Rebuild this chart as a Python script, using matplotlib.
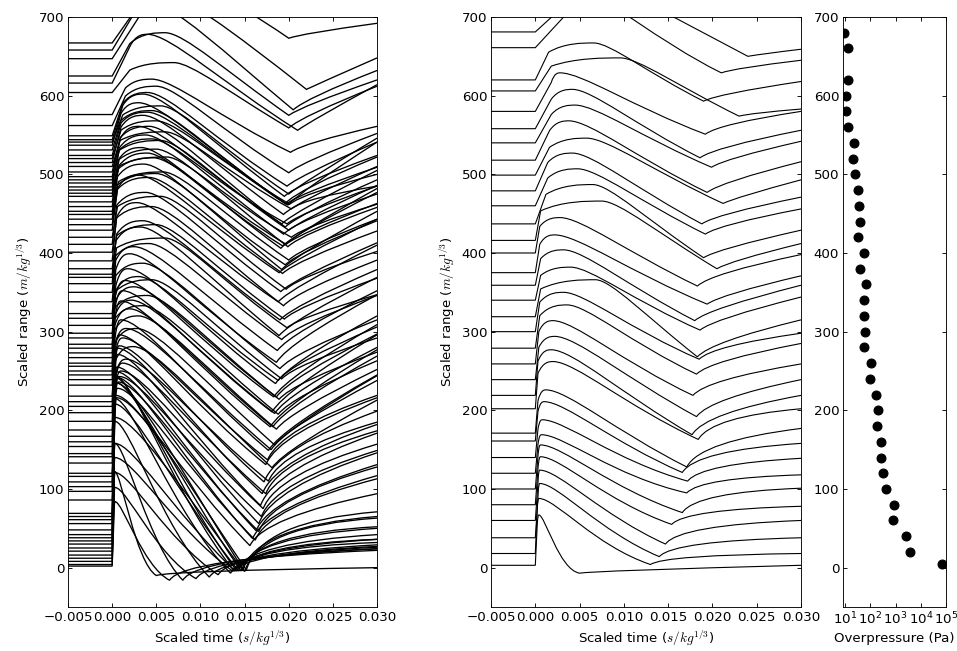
import matplotlib
matplotlib.use('Agg')
import matplotlib.pyplot as plt
from matplotlib.path import Path
from matplotlib.patches import PathPatch

plt.rcParams['font.size'] = 12
plt.rcParams['mathtext.fontset'] = 'cm'
plt.rcParams['xtick.direction'] = 'in'
plt.rcParams['ytick.direction'] = 'in'
plt.rcParams['xtick.top'] = True
plt.rcParams['ytick.right'] = True
plt.rcParams['xtick.major.size'] = 4
plt.rcParams['ytick.major.size'] = 4
plt.rcParams['xtick.minor.size'] = 2
plt.rcParams['ytick.minor.size'] = 2

# ---- left panel: every record (key values) ----
# offset (scaled range), rise time, peak time, peak, mid-descent, V time, V, recovery, end
left_base = [667, 658, 647, 625, 616, 604,
             576, 562, 549, 544, 541, 537, 531,
             524, 520, 515, 510, 503, 497, 493, 489, 484, 480, 476, 472, 465, 459, 453, 449, 443,
             436, 429, 420, 411, 401, 390, 380, 373, 369, 361, 350,
             338, 323, 317, 308, 298, 292, 284, 279, 273, 267, 260, 256, 250, 245, 239, 232, 218, 211, 205,
             197, 186, 175, 167, 160, 154, 145, 141, 133, 120, 116, 109, 103, 97, 86,
             69, 65, 61, 56, 48, 42, 38, 34, 30, 25, 21, 16, 12, 8, 4, 2]
left_rise = [.004, .003, .003, .002, .002, .002,
             .0015, .0015, .0012, .0012, .0012, .001, .001,
             .001, .001, .001, .0009, .0009, .0009, .0008, .0008, .0008, .0008, .0008, .0007, .0007,
             .0007, .0007, .0006, .0006,
             .0006, .0006, .0006, .0005, .0005, .0005, .0005, .0005, .0005, .0004, .0004,
             .0004, .0004, .0004, .0004, .0004, .0004, .0003, .0003, .0003, .0003, .0003, .0003, .0003,
             .0003, .0003, .0003, .0003, .0003, .0003,
             .0003, .0003, .0003, .0003, .0003, .0003, .0003, .0003, .0003, .0003, .0003, .0003, .0003,
             .0003, .0003,
             .0002, .0002, .0002, .0002, .0002, .0002, .0002, .0002, .0002, .0002, .0002, .0002, .0002,
             .0002, .0002, .0002]
left_tp = [.006, .005, .0045, .006, .004, .007,
           .0045, .005, .004, .0035, .0055, .003, .0045,
           .004, .005, .0035, .006, .0042, .003, .0055, .0045, .0038, .005, .0062, .0033, .0047, .004,
           .0058, .0036, .005,
           .0042, .003, .0055, .0038, .0045, .0028, .005, .0035, .006, .0032, .0042,
           .0025, .0035, .002, .0045, .003, .0018, .004, .0025, .0015, .0035, .0022, .0012, .003, .002,
           .001, .0028, .0016, .001, .0024,
           .0012, .0008, .0016, .0008, .0012, .0006, .001, .0006, .0008, .0005, .0007, .0005, .0006,
           .0005, .0005,
           .0004, .0004, .0003, .0003, .0003, .0003, .0003, .0003, .0003, .0003, .0003, .0003, .0003,
           .0003, .0003, .0003]
left_dp = [85, 75, 70, 55, 62, 38,
           45, 50, 55, 58, 46, 54, 50,
           55, 48, 60, 44, 58, 64, 50, 56, 66, 52, 46, 62, 56, 68, 50, 64, 58,
           60, 70, 52, 66, 58, 74, 56, 68, 50, 72, 62,
           70, 64, 82, 58, 72, 88, 62, 78, 92, 66, 80, 96, 70, 84, 100, 72, 86, 104, 76,
           95, 110, 90, 115, 100, 125, 105, 130, 110, 135, 120, 140, 125, 145, 130,
           150, 170, 130, 180, 160, 200, 120, 210, 110, 190, 100, 170, 90, 150, 80, 120]
left_dk = [60, 25, 10, 5, 0, -2,
           -5, -8, -8, -6, -12, -10, -12,
           -4, -8, -2, -10, -6, 0, -10, -6, 2, -8, -12, -2, -4, 4, -8, 0, -4,
           -2, 6, -8, 2, -4, 8, -6, 4, -10, 6, 0,
           4, -2, 8, -6, 2, 10, -4, 6, 12, -2, 6, 14, 0, 8, 16, 2, 10, 18, 4,
           14, 20, 8, 22, 12, 26, 14, 28, 16, 30, 18, 32, 20, 34, 28,
           50, 58, 44, 56, 46, 58, 30, 56, 22, 44, 14, 34, 4, 20, -2, 4]
left_tv = [.020, .022, .0205, .020, .021, .020,
           .0202, .020, .0198, .0195, .020, .0196, .0199,
           .0197, .0201, .0194, .0203, .0196, .0192, .020, .0198, .0194, .0199, .0203, .0191, .0197,
           .0193, .020, .0192, .0196,
           .0193, .0189, .0197, .0191, .0194, .0188, .0195, .019, .0198, .0189, .0192,
           .0187, .019, .0186, .0192, .0188, .0185, .0189, .0186, .0183, .0188, .0184, .0181, .0186,
           .0182, .0179, .0184, .018, .0177, .0181,
           .0176, .0174, .0177, .0172, .0174, .017, .0171, .0168, .0169, .0166, .0166, .0163, .0162,
           .0159, .0156,
           .0152, .015, .0148, .0146, .0143, .0141, .0139, .0138, .0136, .0134, .012, .011, .0095,
           .008, .0065, .005]
left_dv = [6, -50, -65, -50, -60, -45,
           -48, -60, -64, -72, -66, -74, -70,
           -62, -58, -66, -54, -70, -60, -64, -52, -60, -72, -56, -66, -54, -50, -62, -70, -58,
           -62, -54, -66, -60, -68, -52, -64, -58, -64, -66, -60,
           -62, -70, -56, -68, -60, -58, -70, -62, -56, -72, -64, -58, -74, -66, -60, -76, -68, -62, -78,
           -60, -55, -65, -58, -66, -60, -70, -62, -68, -64, -70, -62, -68, -60, -58,
           -72, -70, -64, -60, -52, -46, -42, -38, -34, -32, -30, -28, -26, -24, -20, -12]
left_dr = [12, -42, -50, -38, -48, -30,
           -36, -46, -50, -56, -52, -56, -52,
           -48, -44, -50, -40, -54, -44, -50, -38, -44, -56, -42, -48, -40, -34, -46, -52, -42,
           -46, -38, -50, -44, -50, -34, -48, -40, -50, -46, -42,
           -40, -50, -30, -50, -38, -32, -50, -38, -30, -50, -38, -30, -52, -40, -32, -54, -42, -34, -54,
           -20, -15, -25, -14, -22, -16, -26, -16, -24, -18, -26, -20, -26, -20, -22,
           -10, -12, -8, -12, -8, -12, -6, -8, -4, -6, -2, 0, 2, 6, 8, -6]
left_de = [25, -10, -15, -5, -2, 8,
           -15, -10, -8, -20, 5, -15, 10,
           -15, -20, -5, -25, -10, 8, -18, -4, 2, -22, -14, 10, -2, 18, -10, 4, -2,
           -8, 14, -18, 2, -10, 20, -12, 6, -22, 8, -4,
           14, -8, 30, -16, 8, 28, -10, 18, 36, -4, 20, 40, 2, 24, 38, 6, 26, 34, 8,
           22, 30, 10, 32, 14, 28, 12, 30, 16, 26, 12, 22, 10, 20, 8,
           2, -2, 4, -4, 2, -6, 4, -2, 6, 2, 8, 10, 12, 16, 18, -2]

# ---- middle panel: one record every ~20 m/kg^(1/3) ----
mid_base = [681, 661, 620, 606, 580, 558, 540, 518, 499, 479, 460, 437, 416, 400, 375, 359, 340,
            319, 300, 279, 259, 239, 219, 202, 171, 161, 140, 120, 100, 80, 60, 38, 18, 3]
mid_rise = [.004, .004, .0015, .0018, .0018, .0018, .0018, .0016, .0016, .0014, .0014, .0012,
            .0006, .0005, .0005, .0006, .0006, .0006, .0005, .0005, .0004, .0004, .0003, .0003,
            .0003, .0003, .0003, .0003, .0003, .0003, .0003, .0003, .0002, .0002]
mid_tp = [.0075, .006, .0066, .0096, .0028, .0042, .0045, .0038, .0058, .0042, .0048, .0065,
          .0075, .0028, .0022, .0032, .004, .0068, .0032, .0036, .002, .0022, .0018, .002,
          .0012, .001, .0008, .0007, .0006, .0006, .0005, .0005, .0004, .0004]
mid_dp = [55, 65, 47, 42, 49, 50, 48, 50, 47, 48, 47, 50, 50, 45, 48, 45, 42, 47, 50, 55, 55, 55,
          58, 60, 55, 50, 48, 49, 56, 61, 64, 69, 70, 64]
mid_dk = [18, 10, 8, 5, 6, 4, 6, 2, 4, 2, 4, 4, 8, 0, 0, -2, -2, 0, 2, 6, 2, 2, 2, 4, 2, -2, -4,
          -4, 0, 4, 6, 8, 10, -6]
mid_tv = [.024, .021, .019, .023, .0192, .0186, .0199, .0194, .0212, .0188, .0192, .019, .0205,
          .0183, .0194, .018, .0186, .0183, .0185, .0182, .0178, .0182, .0177, .0184, .0171,
          .0166, .0172, .0171, .0166, .0154, .0147, .014, .013, .005]
mid_dv = [-31, -32, -27, -32, -29, -37, -31, -41, -36, -42, -36, -43, -36, -42, -40, -45, -38,
          -51, -35, -33, -40, -47, -50, -39, -43, -40, -30, -25, -30, -25, -30, -24, -14, -10]
mid_dr = [-28, -26, -18, -28, -16, -24, -20, -28, -28, -30, -24, -32, -26, -26, -28, -30, -24,
          -32, -18, -16, -20, -24, -22, -10, -10, -12, -8, -6, -4, -6, -6, -4, -2, -7]
mid_de = [-22, -16, -2, -23, 0, -2, 2, -2, -6, -8, -4, -8, -4, -2, -4, 0, 4, -4, -2, 6, 0, 0, 0,
          0, 6, -3, -1, -2, 1, -2, 0, 0, 0, 0]

# ---- right panel: peak overpressure of each middle-panel record ----
op_range = [680, 660, 620, 600, 580, 560, 540, 520, 500, 480, 460, 440, 420, 400, 380, 360, 340,
            320, 300, 280, 260, 240, 220, 200, 180, 160, 140, 120, 100, 80, 60, 40, 20, 5]
op_pa = [9, 13, 13, 11, 10.6, 13, 22, 21, 24, 33, 35, 40, 32, 55, 40, 67, 55, 58, 63, 55, 105, 93,
         163, 208, 178, 270, 270, 315, 436, 910, 830, 2570, 3880, 70000]

T_START, T_END = -0.005, 0.030
REC_DT = 0.0015


def draw_traces(ax, base, rise, tp, dp, dk, tv, dv, dr, de, lw):
    for i in range(len(base)):
        b = base[i]
        tr, yr = rise[i], b + 0.75 * dp[i]
        tpk, ypk = tp[i], b + dp[i]
        tk, yk = (tp[i] + tv[i]) / 2, b + dk[i]
        span = tpk - tr
        verts = [(T_START, b), (0.0, b), (tr, yr),
                 (tr + 0.35 * span, ypk), (tpk - 0.25 * span, ypk), (tpk, ypk),
                 (tpk + 0.3 * (tk - tpk), ypk), (tk, yk), (tv[i], b + dv[i]),
                 (tv[i] + REC_DT, b + dr[i]), (T_END, b + de[i])]
        codes = [Path.MOVETO, Path.LINETO, Path.LINETO,
                 Path.CURVE4, Path.CURVE4, Path.CURVE4,
                 Path.CURVE4, Path.CURVE4, Path.CURVE4,
                 Path.CURVE3, Path.CURVE3]
        ax.add_patch(PathPatch(Path(verts, codes), fill=False, edgecolor='k', lw=lw))


fig = plt.figure(figsize=(957 / 80, 651 / 80), dpi=80)
ax1 = fig.add_axes([0.0711, 0.0676, 0.3229, 0.9063])
ax2 = fig.add_axes([0.5131, 0.0676, 0.3239, 0.9063])
ax3 = fig.add_axes([0.8809, 0.0676, 0.1076, 0.9063])

draw_traces(ax1, left_base, left_rise, left_tp, left_dp, left_dk, left_tv, left_dv, left_dr,
            left_de, 1.2)
draw_traces(ax2, mid_base, mid_rise, mid_tp, mid_dp, mid_dk, mid_tv, mid_dv, mid_dr, mid_de, 1.0)

xt = [-0.005, 0.0, 0.005, 0.010, 0.015, 0.020, 0.025, 0.030]
for ax in (ax1, ax2):
    ax.set_xlim(T_START, T_END)
    ax.set_ylim(-50, 700)
    ax.set_xticks(xt)
    ax.set_xticklabels(['%.3f' % v if v >= 0 else '\u22120.005' for v in xt])
    ax.set_yticks(range(0, 701, 100))
    ax.set_xlabel('Scaled time ($s/kg^{1/3}$)')
    ax.set_ylabel('Scaled range ($m/kg^{1/3}$)')

ax3.plot(op_pa, op_range, 'o', color='k', ms=8)
ax3.set_xscale('log')
ax3.set_xlim(8.3, 1e5)
ax3.set_ylim(-50, 700)
ax3.set_yticks(range(0, 701, 100))
ax3.set_xticks([1e1, 1e2, 1e3, 1e4, 1e5])
ax3.set_xlabel('Overpressure (Pa)')

fig.savefig('out.png', dpi=80)
